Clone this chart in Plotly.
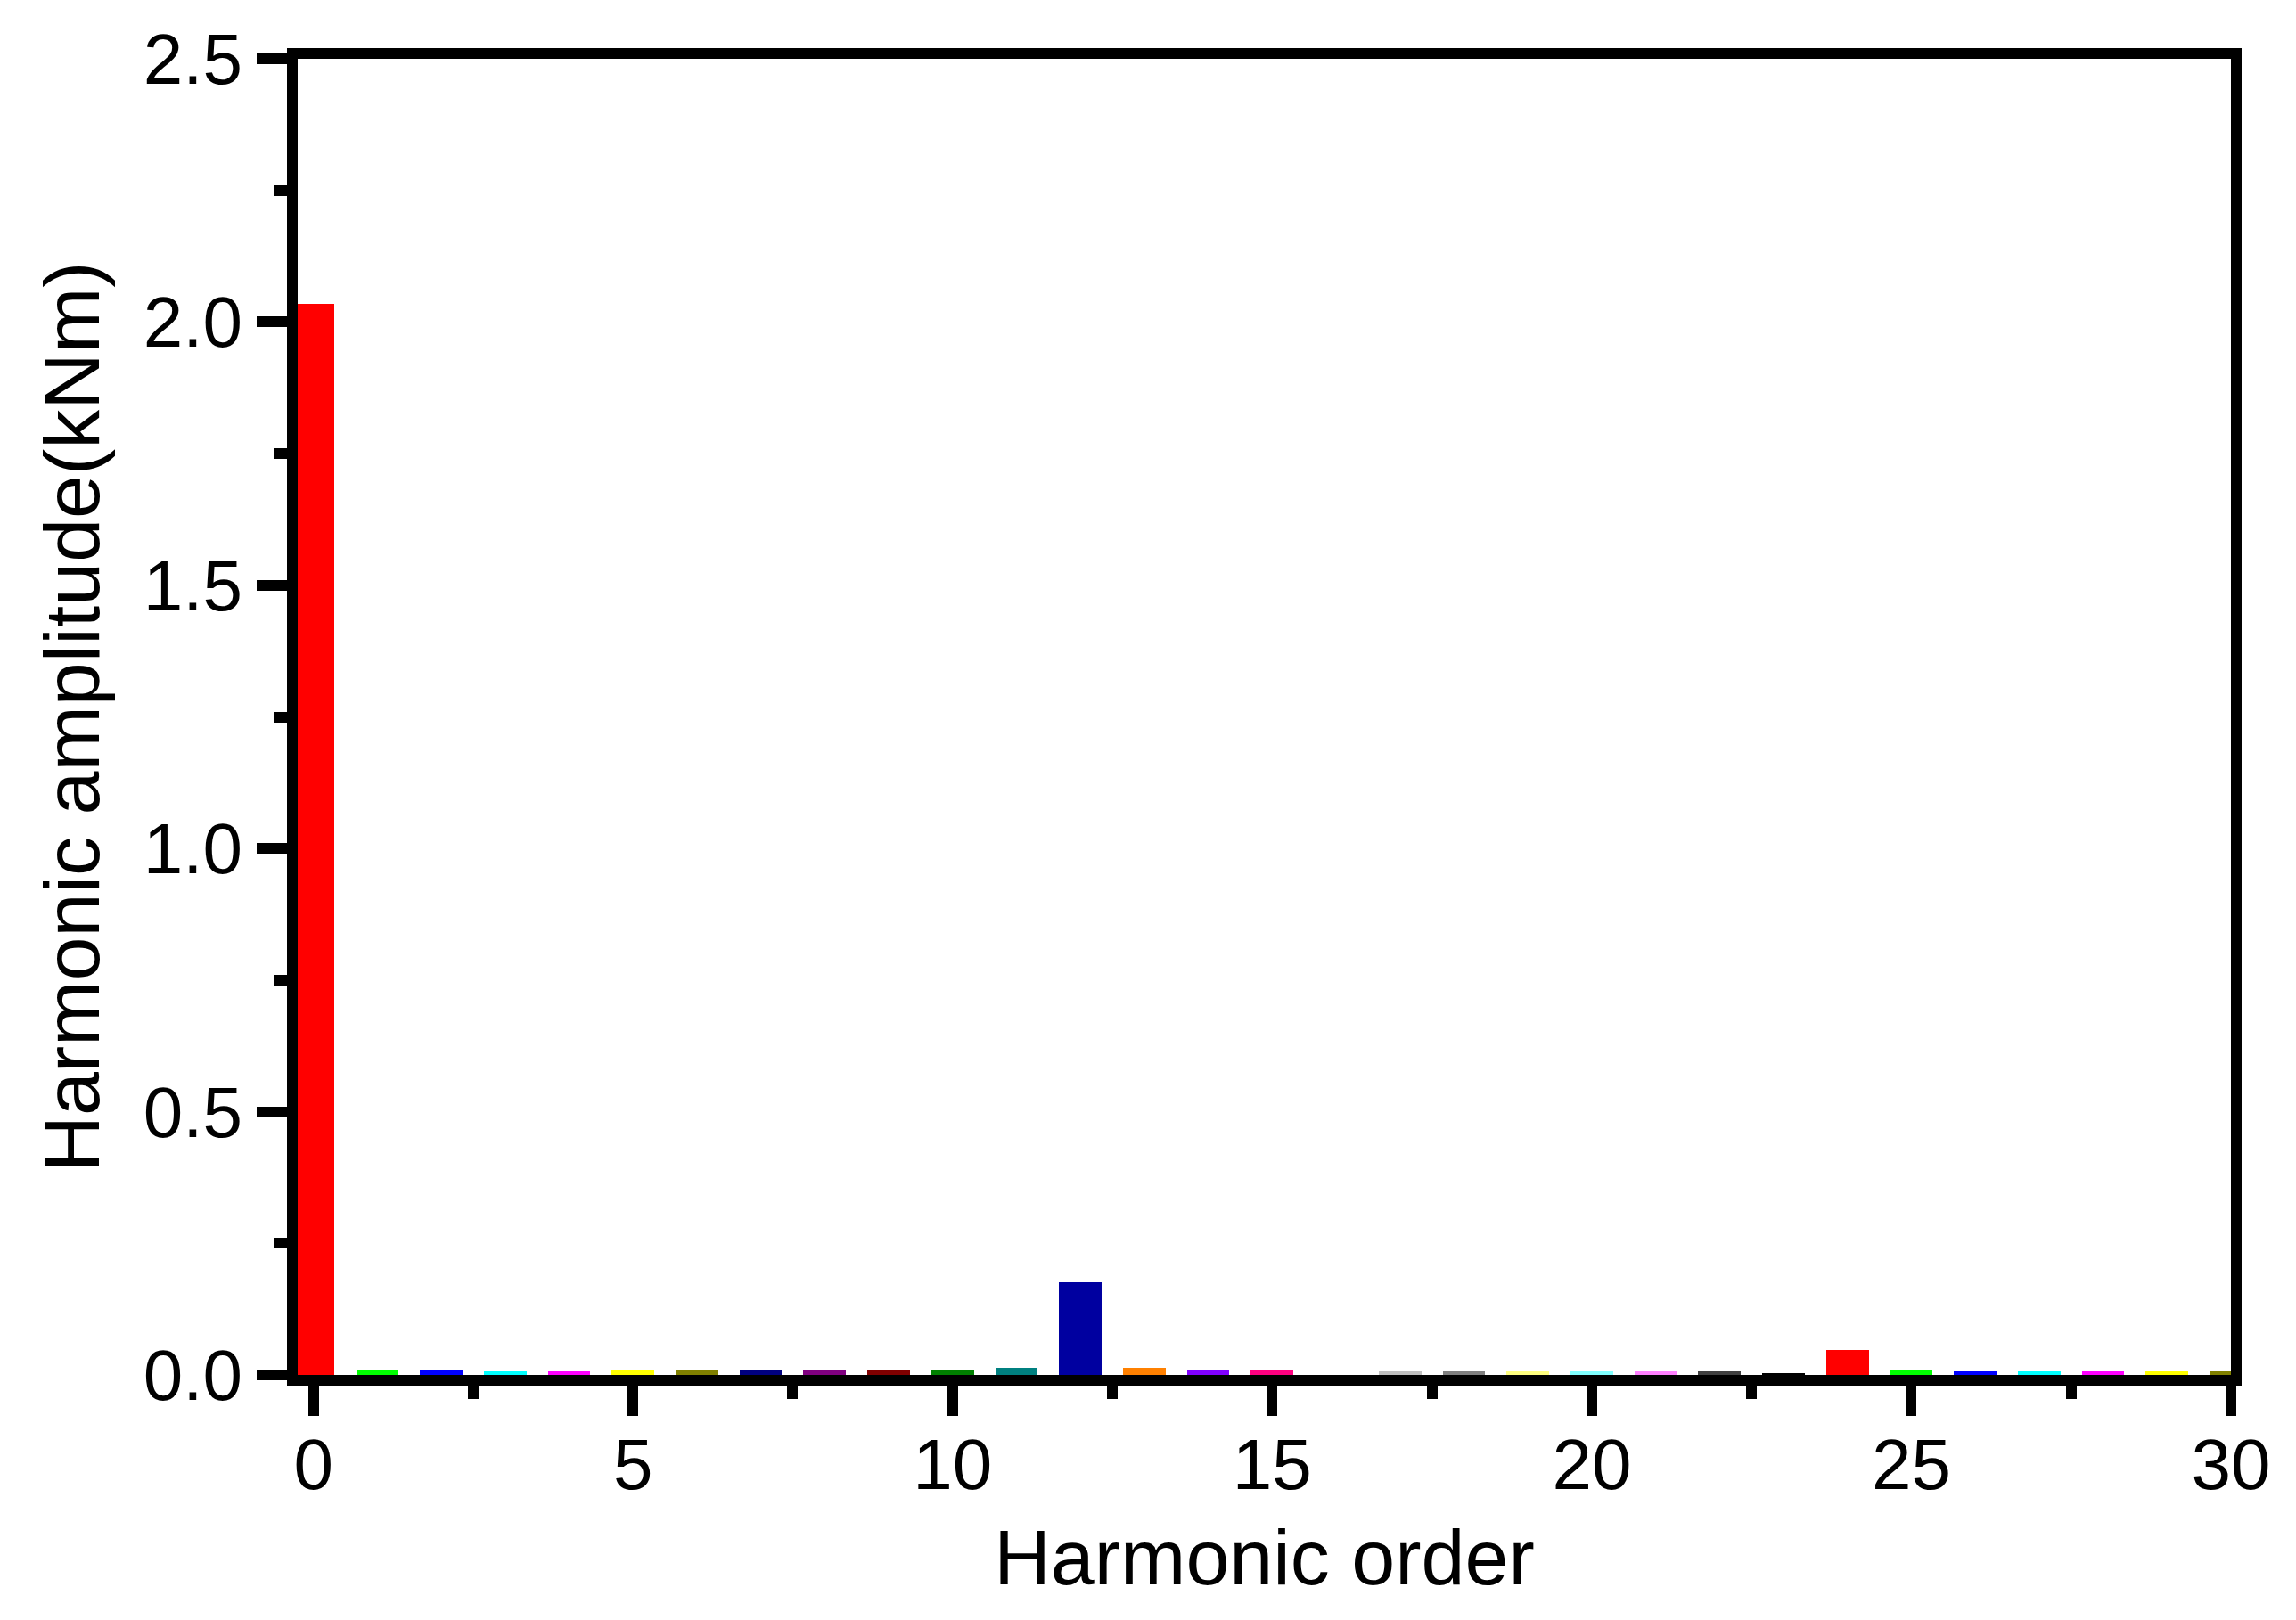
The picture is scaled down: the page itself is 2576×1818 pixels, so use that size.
import plotly.graph_objects as go

# harmonic spectrum values
orders = list(range(31))
amplitudes = [
    2.035, 0.010, 0.010, 0.007, 0.007, 0.010, 0.010, 0.010, 0.010, 0.010,
    0.010, 0.0135, 0.176, 0.0135, 0.010, 0.010, 0.007, 0.007, 0.007, 0.007,
    0.007, 0.007, 0.007, 0.004, 0.047, 0.010, 0.007, 0.007, 0.007, 0.007,
    0.007,
]
# Origin default colour list, starting from red (black falls on order 23)
bar_colors = [
    "#FF0000", "#00FF00", "#0000FF", "#00FFFF", "#FF00FF", "#FFFF00",
    "#808000", "#000080", "#800080", "#800000", "#008000", "#008080",
    "#0000A0", "#FF8000", "#8000FF", "#FF0080", "#FFFFFF", "#C0C0C0",
    "#808080", "#FFFF80", "#80FFFF", "#FF80FF", "#404040", "#000000",
    "#FF0000", "#00FF00", "#0000FF", "#00FFFF", "#FF00FF", "#FFFF00",
    "#808000",
]
x_ticks = [0, 5, 10, 15, 20, 25, 30]
y_ticks = [0.0, 0.5, 1.0, 1.5, 2.0, 2.5]

FONT = "Liberation Sans, Arial, sans-serif"

fig = go.Figure(
    go.Bar(
        x=orders,
        y=amplitudes,
        width=0.665,
        marker=dict(color=bar_colors, line=dict(width=0)),
        showlegend=False,
    )
)

axis_common = dict(
    showline=True,
    linecolor="black",
    linewidth=12,
    mirror=True,
    showgrid=False,
    zeroline=False,
    ticks="outside",
    ticklen=34,
    tickwidth=12,
    tickcolor="black",
    tickfont=dict(family=FONT, size=80, color="black"),
    layer="below traces",
)

fig.update_xaxes(
    **axis_common,
    range=[-0.246, 30.0],
    tickvals=x_ticks,
    ticktext=[str(v) for v in x_ticks],
    ticklabelstandoff=-14,
    minor=dict(dtick=2.5, tick0=0, ticks="outside", ticklen=15, tickwidth=12, tickcolor="black"),
    title=dict(text="Harmonic order", font=dict(family=FONT, size=88, color="black"), standoff=34),
)
fig.update_yaxes(
    **axis_common,
    range=[0, 2.5],
    tickvals=y_ticks,
    ticktext=[f"{v:.1f}" for v in y_ticks],
    minor=dict(dtick=0.25, tick0=0, ticks="outside", ticklen=15, tickwidth=12, tickcolor="black"),
    title=dict(text="Harmonic amplitude(kNm)", font=dict(family=FONT, size=88, color="black"), standoff=25),
)

fig.update_layout(
    width=2576,
    height=1818,
    margin=dict(l=334, r=73, t=66, b=275),
    plot_bgcolor="white",
    paper_bgcolor="white",
    bargap=0,
)

fig.write_html(
    "out.html",
    config={"displayModeBar": False},
    post_script="document.body.style.margin='0';document.body.style.overflow='hidden';",
)
